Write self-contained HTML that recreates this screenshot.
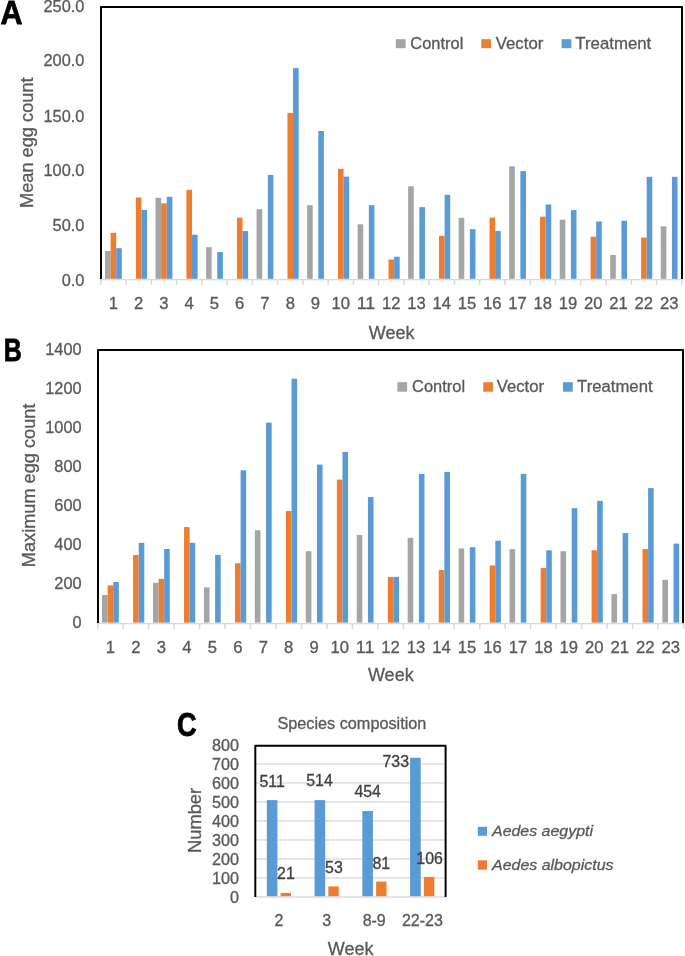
<!DOCTYPE html>
<html><head><meta charset="utf-8"><title>Figure</title>
<style>
html,body{margin:0;padding:0;background:#fff;}
body{width:685px;height:956px;overflow:hidden;}
svg{display:block;will-change:transform;font-family:"Liberation Sans", sans-serif;}
</style></head>
<body>
<svg width="685" height="956" viewBox="0 0 685 956">
<rect width="685" height="956" fill="#fff"/>
<rect x="105.03" y="251.1" width="5.6" height="27.7" fill="#A5A5A5"/>
<rect x="110.63" y="232.8" width="5.6" height="46" fill="#ED7D31"/>
<rect x="116.23" y="248.2" width="5.6" height="30.6" fill="#5B9BD5"/>
<rect x="135.89" y="197.5" width="5.6" height="81.3" fill="#ED7D31"/>
<rect x="141.49" y="209.9" width="5.6" height="68.9" fill="#5B9BD5"/>
<rect x="155.55" y="197.8" width="5.6" height="81" fill="#A5A5A5"/>
<rect x="161.15" y="203.4" width="5.6" height="75.4" fill="#ED7D31"/>
<rect x="166.75" y="196.8" width="5.6" height="82" fill="#5B9BD5"/>
<rect x="186.41" y="189.9" width="5.6" height="88.9" fill="#ED7D31"/>
<rect x="192.01" y="234.7" width="5.6" height="44.1" fill="#5B9BD5"/>
<rect x="206.07" y="247.2" width="5.6" height="31.6" fill="#A5A5A5"/>
<rect x="217.27" y="252" width="5.6" height="26.8" fill="#5B9BD5"/>
<rect x="236.93" y="217.7" width="5.6" height="61.1" fill="#ED7D31"/>
<rect x="242.53" y="231.1" width="5.6" height="47.7" fill="#5B9BD5"/>
<rect x="256.59" y="209.2" width="5.6" height="69.6" fill="#A5A5A5"/>
<rect x="267.79" y="174.9" width="5.6" height="103.9" fill="#5B9BD5"/>
<rect x="287.45" y="112.9" width="5.6" height="165.9" fill="#ED7D31"/>
<rect x="293.05" y="68.1" width="5.6" height="210.7" fill="#5B9BD5"/>
<rect x="307.11" y="205.2" width="5.6" height="73.6" fill="#A5A5A5"/>
<rect x="318.31" y="131" width="5.6" height="147.8" fill="#5B9BD5"/>
<rect x="337.97" y="168.9" width="5.6" height="109.9" fill="#ED7D31"/>
<rect x="343.57" y="176.6" width="5.6" height="102.2" fill="#5B9BD5"/>
<rect x="357.63" y="224.3" width="5.6" height="54.5" fill="#A5A5A5"/>
<rect x="368.83" y="205.2" width="5.6" height="73.6" fill="#5B9BD5"/>
<rect x="388.49" y="259.5" width="5.6" height="19.3" fill="#ED7D31"/>
<rect x="394.09" y="256.7" width="5.6" height="22.1" fill="#5B9BD5"/>
<rect x="408.15" y="186.3" width="5.6" height="92.5" fill="#A5A5A5"/>
<rect x="419.35" y="207.1" width="5.6" height="71.7" fill="#5B9BD5"/>
<rect x="439.01" y="235.8" width="5.6" height="43" fill="#ED7D31"/>
<rect x="444.61" y="194.8" width="5.6" height="84" fill="#5B9BD5"/>
<rect x="458.67" y="217.8" width="5.6" height="61" fill="#A5A5A5"/>
<rect x="469.87" y="229.2" width="5.6" height="49.6" fill="#5B9BD5"/>
<rect x="489.53" y="217.6" width="5.6" height="61.2" fill="#ED7D31"/>
<rect x="495.13" y="230.9" width="5.6" height="47.9" fill="#5B9BD5"/>
<rect x="509.19" y="166.3" width="5.6" height="112.5" fill="#A5A5A5"/>
<rect x="520.39" y="171" width="5.6" height="107.8" fill="#5B9BD5"/>
<rect x="540.05" y="216.7" width="5.6" height="62.1" fill="#ED7D31"/>
<rect x="545.65" y="204.5" width="5.6" height="74.3" fill="#5B9BD5"/>
<rect x="559.71" y="219.7" width="5.6" height="59.1" fill="#A5A5A5"/>
<rect x="570.91" y="210.1" width="5.6" height="68.7" fill="#5B9BD5"/>
<rect x="590.57" y="236.7" width="5.6" height="42.1" fill="#ED7D31"/>
<rect x="596.17" y="221.5" width="5.6" height="57.3" fill="#5B9BD5"/>
<rect x="610.23" y="255" width="5.6" height="23.8" fill="#A5A5A5"/>
<rect x="621.43" y="220.7" width="5.6" height="58.1" fill="#5B9BD5"/>
<rect x="641.09" y="237.6" width="5.6" height="41.2" fill="#ED7D31"/>
<rect x="646.69" y="176.8" width="5.6" height="102" fill="#5B9BD5"/>
<rect x="660.75" y="226.3" width="5.6" height="52.5" fill="#A5A5A5"/>
<rect x="671.95" y="176.8" width="5.6" height="102" fill="#5B9BD5"/>
<rect x="100.3" y="279" width="581.98" height="1.3" fill="#D9D9D9"/>
<rect x="100.05" y="280" width="1.5" height="4.9" fill="#D9D9D9"/>
<rect x="125.31" y="280" width="1.5" height="4.9" fill="#D9D9D9"/>
<rect x="150.57" y="280" width="1.5" height="4.9" fill="#D9D9D9"/>
<rect x="175.83" y="280" width="1.5" height="4.9" fill="#D9D9D9"/>
<rect x="201.09" y="280" width="1.5" height="4.9" fill="#D9D9D9"/>
<rect x="226.35" y="280" width="1.5" height="4.9" fill="#D9D9D9"/>
<rect x="251.61" y="280" width="1.5" height="4.9" fill="#D9D9D9"/>
<rect x="276.87" y="280" width="1.5" height="4.9" fill="#D9D9D9"/>
<rect x="302.13" y="280" width="1.5" height="4.9" fill="#D9D9D9"/>
<rect x="327.39" y="280" width="1.5" height="4.9" fill="#D9D9D9"/>
<rect x="352.65" y="280" width="1.5" height="4.9" fill="#D9D9D9"/>
<rect x="377.91" y="280" width="1.5" height="4.9" fill="#D9D9D9"/>
<rect x="403.17" y="280" width="1.5" height="4.9" fill="#D9D9D9"/>
<rect x="428.43" y="280" width="1.5" height="4.9" fill="#D9D9D9"/>
<rect x="453.69" y="280" width="1.5" height="4.9" fill="#D9D9D9"/>
<rect x="478.95" y="280" width="1.5" height="4.9" fill="#D9D9D9"/>
<rect x="504.21" y="280" width="1.5" height="4.9" fill="#D9D9D9"/>
<rect x="529.47" y="280" width="1.5" height="4.9" fill="#D9D9D9"/>
<rect x="554.73" y="280" width="1.5" height="4.9" fill="#D9D9D9"/>
<rect x="579.99" y="280" width="1.5" height="4.9" fill="#D9D9D9"/>
<rect x="605.25" y="280" width="1.5" height="4.9" fill="#D9D9D9"/>
<rect x="630.51" y="280" width="1.5" height="4.9" fill="#D9D9D9"/>
<rect x="655.77" y="280" width="1.5" height="4.9" fill="#D9D9D9"/>
<rect x="681.03" y="280" width="1.5" height="4.9" fill="#D9D9D9"/>
<path d="M101 279 V7 H682 V279" fill="none" stroke="#000" stroke-width="2" stroke-linejoin="round"/>
<text x="84.4" y="285.9" font-size="16.3" text-anchor="end" fill="#595959" stroke="#595959" stroke-width="0.3" textLength="22.69" lengthAdjust="spacingAndGlyphs">0.0</text>
<text x="84.4" y="231.2" font-size="16.3" text-anchor="end" fill="#595959" stroke="#595959" stroke-width="0.3" textLength="31.76" lengthAdjust="spacingAndGlyphs">50.0</text>
<text x="84.4" y="175.7" font-size="16.3" text-anchor="end" fill="#595959" stroke="#595959" stroke-width="0.3" textLength="40.84" lengthAdjust="spacingAndGlyphs">100.0</text>
<text x="84.4" y="121.85" font-size="16.3" text-anchor="end" fill="#595959" stroke="#595959" stroke-width="0.3" textLength="40.84" lengthAdjust="spacingAndGlyphs">150.0</text>
<text x="84.4" y="66.3" font-size="16.3" text-anchor="end" fill="#595959" stroke="#595959" stroke-width="0.3" textLength="40.84" lengthAdjust="spacingAndGlyphs">200.0</text>
<text x="84.4" y="12.2" font-size="16.3" text-anchor="end" fill="#595959" stroke="#595959" stroke-width="0.3" textLength="40.84" lengthAdjust="spacingAndGlyphs">250.0</text>
<text x="113.43" y="308.5" font-size="16" text-anchor="middle" fill="#595959" stroke="#595959" stroke-width="0.3" textLength="9.25" lengthAdjust="spacingAndGlyphs">1</text>
<text x="138.69" y="308.5" font-size="16" text-anchor="middle" fill="#595959" stroke="#595959" stroke-width="0.3" textLength="9.25" lengthAdjust="spacingAndGlyphs">2</text>
<text x="163.95" y="308.5" font-size="16" text-anchor="middle" fill="#595959" stroke="#595959" stroke-width="0.3" textLength="9.25" lengthAdjust="spacingAndGlyphs">3</text>
<text x="189.21" y="308.5" font-size="16" text-anchor="middle" fill="#595959" stroke="#595959" stroke-width="0.3" textLength="9.25" lengthAdjust="spacingAndGlyphs">4</text>
<text x="214.47" y="308.5" font-size="16" text-anchor="middle" fill="#595959" stroke="#595959" stroke-width="0.3" textLength="9.25" lengthAdjust="spacingAndGlyphs">5</text>
<text x="239.73" y="308.5" font-size="16" text-anchor="middle" fill="#595959" stroke="#595959" stroke-width="0.3" textLength="9.25" lengthAdjust="spacingAndGlyphs">6</text>
<text x="264.99" y="308.5" font-size="16" text-anchor="middle" fill="#595959" stroke="#595959" stroke-width="0.3" textLength="9.25" lengthAdjust="spacingAndGlyphs">7</text>
<text x="290.25" y="308.5" font-size="16" text-anchor="middle" fill="#595959" stroke="#595959" stroke-width="0.3" textLength="9.25" lengthAdjust="spacingAndGlyphs">8</text>
<text x="315.51" y="308.5" font-size="16" text-anchor="middle" fill="#595959" stroke="#595959" stroke-width="0.3" textLength="9.25" lengthAdjust="spacingAndGlyphs">9</text>
<text x="340.77" y="308.5" font-size="16" text-anchor="middle" fill="#595959" stroke="#595959" stroke-width="0.3" textLength="18.5" lengthAdjust="spacingAndGlyphs">10</text>
<text x="366.03" y="308.5" font-size="16" text-anchor="middle" fill="#595959" stroke="#595959" stroke-width="0.3" textLength="18.5" lengthAdjust="spacingAndGlyphs">11</text>
<text x="391.29" y="308.5" font-size="16" text-anchor="middle" fill="#595959" stroke="#595959" stroke-width="0.3" textLength="18.5" lengthAdjust="spacingAndGlyphs">12</text>
<text x="416.55" y="308.5" font-size="16" text-anchor="middle" fill="#595959" stroke="#595959" stroke-width="0.3" textLength="18.5" lengthAdjust="spacingAndGlyphs">13</text>
<text x="441.81" y="308.5" font-size="16" text-anchor="middle" fill="#595959" stroke="#595959" stroke-width="0.3" textLength="18.5" lengthAdjust="spacingAndGlyphs">14</text>
<text x="467.07" y="308.5" font-size="16" text-anchor="middle" fill="#595959" stroke="#595959" stroke-width="0.3" textLength="18.5" lengthAdjust="spacingAndGlyphs">15</text>
<text x="492.33" y="308.5" font-size="16" text-anchor="middle" fill="#595959" stroke="#595959" stroke-width="0.3" textLength="18.5" lengthAdjust="spacingAndGlyphs">16</text>
<text x="517.59" y="308.5" font-size="16" text-anchor="middle" fill="#595959" stroke="#595959" stroke-width="0.3" textLength="18.5" lengthAdjust="spacingAndGlyphs">17</text>
<text x="542.85" y="308.5" font-size="16" text-anchor="middle" fill="#595959" stroke="#595959" stroke-width="0.3" textLength="18.5" lengthAdjust="spacingAndGlyphs">18</text>
<text x="568.11" y="308.5" font-size="16" text-anchor="middle" fill="#595959" stroke="#595959" stroke-width="0.3" textLength="18.5" lengthAdjust="spacingAndGlyphs">19</text>
<text x="593.37" y="308.5" font-size="16" text-anchor="middle" fill="#595959" stroke="#595959" stroke-width="0.3" textLength="18.5" lengthAdjust="spacingAndGlyphs">20</text>
<text x="618.63" y="308.5" font-size="16" text-anchor="middle" fill="#595959" stroke="#595959" stroke-width="0.3" textLength="18.5" lengthAdjust="spacingAndGlyphs">21</text>
<text x="643.89" y="308.5" font-size="16" text-anchor="middle" fill="#595959" stroke="#595959" stroke-width="0.3" textLength="18.5" lengthAdjust="spacingAndGlyphs">22</text>
<text x="669.15" y="308.5" font-size="16" text-anchor="middle" fill="#595959" stroke="#595959" stroke-width="0.3" textLength="18.5" lengthAdjust="spacingAndGlyphs">23</text>
<text x="391.7" y="338.6" font-size="18" text-anchor="middle" fill="#595959" stroke="#595959" stroke-width="0.3">Week</text>
<text transform="translate(33.2,142.7) rotate(-90)" font-size="18" text-anchor="middle" fill="#595959" stroke="#595959" stroke-width="0.3" textLength="130.6" lengthAdjust="spacingAndGlyphs">Mean egg count</text>
<rect x="395.8" y="39.2" width="9.8" height="9" fill="#A5A5A5"/>
<text x="410.3" y="48.5" font-size="15.8" text-anchor="start" fill="#595959" stroke="#595959" stroke-width="0.3" textLength="53" lengthAdjust="spacingAndGlyphs">Control</text>
<rect x="481.3" y="39.2" width="9.8" height="9" fill="#ED7D31"/>
<text x="495.8" y="48.5" font-size="15.8" text-anchor="start" fill="#595959" stroke="#595959" stroke-width="0.3" textLength="47.5" lengthAdjust="spacingAndGlyphs">Vector</text>
<rect x="561.6" y="39.2" width="9.8" height="9" fill="#5B9BD5"/>
<text x="575.3" y="48.5" font-size="15.8" text-anchor="start" fill="#595959" stroke="#595959" stroke-width="0.3" textLength="76" lengthAdjust="spacingAndGlyphs">Treatment</text>
<text x="0.6" y="24" font-size="32.5" text-anchor="start" fill="#000" stroke="#000" stroke-width="0.8" font-weight="bold" textLength="22" lengthAdjust="spacingAndGlyphs">A</text>
<rect x="102.03" y="595" width="5.6" height="27.6" fill="#A5A5A5"/>
<rect x="107.64" y="585.4" width="5.6" height="37.2" fill="#ED7D31"/>
<rect x="113.23" y="582" width="5.6" height="40.6" fill="#5B9BD5"/>
<rect x="133.1" y="555" width="5.6" height="67.6" fill="#ED7D31"/>
<rect x="138.71" y="542.8" width="5.6" height="79.8" fill="#5B9BD5"/>
<rect x="152.97" y="582.8" width="5.6" height="39.8" fill="#A5A5A5"/>
<rect x="158.57" y="578.9" width="5.6" height="43.7" fill="#ED7D31"/>
<rect x="164.18" y="549" width="5.6" height="73.6" fill="#5B9BD5"/>
<rect x="184.05" y="527.1" width="5.6" height="95.5" fill="#ED7D31"/>
<rect x="189.65" y="542.8" width="5.6" height="79.8" fill="#5B9BD5"/>
<rect x="203.91" y="587.4" width="5.6" height="35.2" fill="#A5A5A5"/>
<rect x="215.12" y="554.9" width="5.6" height="67.7" fill="#5B9BD5"/>
<rect x="234.99" y="563.3" width="5.6" height="59.3" fill="#ED7D31"/>
<rect x="240.59" y="470.3" width="5.6" height="152.3" fill="#5B9BD5"/>
<rect x="254.85" y="530.2" width="5.6" height="92.4" fill="#A5A5A5"/>
<rect x="266.06" y="422.7" width="5.6" height="199.9" fill="#5B9BD5"/>
<rect x="285.93" y="511" width="5.6" height="111.6" fill="#ED7D31"/>
<rect x="291.53" y="378.7" width="5.6" height="243.9" fill="#5B9BD5"/>
<rect x="305.8" y="551.2" width="5.6" height="71.4" fill="#A5A5A5"/>
<rect x="317" y="464.6" width="5.6" height="158" fill="#5B9BD5"/>
<rect x="336.87" y="479.6" width="5.6" height="143" fill="#ED7D31"/>
<rect x="342.47" y="452" width="5.6" height="170.6" fill="#5B9BD5"/>
<rect x="356.74" y="535" width="5.6" height="87.6" fill="#A5A5A5"/>
<rect x="367.94" y="497" width="5.6" height="125.6" fill="#5B9BD5"/>
<rect x="387.8" y="576.9" width="5.6" height="45.7" fill="#ED7D31"/>
<rect x="393.4" y="576.9" width="5.6" height="45.7" fill="#5B9BD5"/>
<rect x="407.68" y="537.8" width="5.6" height="84.8" fill="#A5A5A5"/>
<rect x="418.88" y="473.9" width="5.6" height="148.7" fill="#5B9BD5"/>
<rect x="438.75" y="570.1" width="5.6" height="52.5" fill="#ED7D31"/>
<rect x="444.35" y="471.9" width="5.6" height="150.7" fill="#5B9BD5"/>
<rect x="458.62" y="548.4" width="5.6" height="74.2" fill="#A5A5A5"/>
<rect x="469.81" y="547.2" width="5.6" height="75.4" fill="#5B9BD5"/>
<rect x="489.68" y="565.5" width="5.6" height="57.1" fill="#ED7D31"/>
<rect x="495.28" y="540.7" width="5.6" height="81.9" fill="#5B9BD5"/>
<rect x="509.55" y="549.2" width="5.6" height="73.4" fill="#A5A5A5"/>
<rect x="520.75" y="473.9" width="5.6" height="148.7" fill="#5B9BD5"/>
<rect x="540.63" y="568.1" width="5.6" height="54.5" fill="#ED7D31"/>
<rect x="546.23" y="550.3" width="5.6" height="72.3" fill="#5B9BD5"/>
<rect x="560.5" y="551.2" width="5.6" height="71.4" fill="#A5A5A5"/>
<rect x="571.69" y="508.2" width="5.6" height="114.4" fill="#5B9BD5"/>
<rect x="591.57" y="550.3" width="5.6" height="72.3" fill="#ED7D31"/>
<rect x="597.16" y="500.9" width="5.6" height="121.7" fill="#5B9BD5"/>
<rect x="611.44" y="594.1" width="5.6" height="28.5" fill="#A5A5A5"/>
<rect x="622.63" y="533.1" width="5.6" height="89.5" fill="#5B9BD5"/>
<rect x="642.51" y="549.1" width="5.6" height="73.5" fill="#ED7D31"/>
<rect x="648.11" y="488.1" width="5.6" height="134.5" fill="#5B9BD5"/>
<rect x="662.38" y="579.8" width="5.6" height="42.8" fill="#A5A5A5"/>
<rect x="673.57" y="543.6" width="5.6" height="79" fill="#5B9BD5"/>
<rect x="97.2" y="623" width="586.81" height="1.3" fill="#D9D9D9"/>
<rect x="96.95" y="624" width="1.5" height="4.9" fill="#D9D9D9"/>
<rect x="122.42" y="624" width="1.5" height="4.9" fill="#D9D9D9"/>
<rect x="147.89" y="624" width="1.5" height="4.9" fill="#D9D9D9"/>
<rect x="173.36" y="624" width="1.5" height="4.9" fill="#D9D9D9"/>
<rect x="198.83" y="624" width="1.5" height="4.9" fill="#D9D9D9"/>
<rect x="224.3" y="624" width="1.5" height="4.9" fill="#D9D9D9"/>
<rect x="249.77" y="624" width="1.5" height="4.9" fill="#D9D9D9"/>
<rect x="275.24" y="624" width="1.5" height="4.9" fill="#D9D9D9"/>
<rect x="300.71" y="624" width="1.5" height="4.9" fill="#D9D9D9"/>
<rect x="326.18" y="624" width="1.5" height="4.9" fill="#D9D9D9"/>
<rect x="351.65" y="624" width="1.5" height="4.9" fill="#D9D9D9"/>
<rect x="377.12" y="624" width="1.5" height="4.9" fill="#D9D9D9"/>
<rect x="402.59" y="624" width="1.5" height="4.9" fill="#D9D9D9"/>
<rect x="428.06" y="624" width="1.5" height="4.9" fill="#D9D9D9"/>
<rect x="453.53" y="624" width="1.5" height="4.9" fill="#D9D9D9"/>
<rect x="479" y="624" width="1.5" height="4.9" fill="#D9D9D9"/>
<rect x="504.47" y="624" width="1.5" height="4.9" fill="#D9D9D9"/>
<rect x="529.94" y="624" width="1.5" height="4.9" fill="#D9D9D9"/>
<rect x="555.41" y="624" width="1.5" height="4.9" fill="#D9D9D9"/>
<rect x="580.88" y="624" width="1.5" height="4.9" fill="#D9D9D9"/>
<rect x="606.35" y="624" width="1.5" height="4.9" fill="#D9D9D9"/>
<rect x="631.82" y="624" width="1.5" height="4.9" fill="#D9D9D9"/>
<rect x="657.29" y="624" width="1.5" height="4.9" fill="#D9D9D9"/>
<rect x="682.76" y="624" width="1.5" height="4.9" fill="#D9D9D9"/>
<path d="M98 623 V350 H683 V623" fill="none" stroke="#000" stroke-width="2" stroke-linejoin="round"/>
<text x="81.6" y="628.35" font-size="16.5" text-anchor="end" fill="#595959" stroke="#595959" stroke-width="0.3" textLength="9.09" lengthAdjust="spacingAndGlyphs">0</text>
<text x="81.6" y="589.28" font-size="16.5" text-anchor="end" fill="#595959" stroke="#595959" stroke-width="0.3" textLength="27.28" lengthAdjust="spacingAndGlyphs">200</text>
<text x="81.6" y="550.21" font-size="16.5" text-anchor="end" fill="#595959" stroke="#595959" stroke-width="0.3" textLength="27.28" lengthAdjust="spacingAndGlyphs">400</text>
<text x="81.6" y="511.14" font-size="16.5" text-anchor="end" fill="#595959" stroke="#595959" stroke-width="0.3" textLength="27.28" lengthAdjust="spacingAndGlyphs">600</text>
<text x="81.6" y="472.07" font-size="16.5" text-anchor="end" fill="#595959" stroke="#595959" stroke-width="0.3" textLength="27.28" lengthAdjust="spacingAndGlyphs">800</text>
<text x="81.6" y="433" font-size="16.5" text-anchor="end" fill="#595959" stroke="#595959" stroke-width="0.3" textLength="36.37" lengthAdjust="spacingAndGlyphs">1000</text>
<text x="81.6" y="393.93" font-size="16.5" text-anchor="end" fill="#595959" stroke="#595959" stroke-width="0.3" textLength="36.37" lengthAdjust="spacingAndGlyphs">1200</text>
<text x="81.6" y="354.86" font-size="16.5" text-anchor="end" fill="#595959" stroke="#595959" stroke-width="0.3" textLength="36.37" lengthAdjust="spacingAndGlyphs">1400</text>
<text x="110.44" y="652.7" font-size="16" text-anchor="middle" fill="#595959" stroke="#595959" stroke-width="0.3" textLength="9.25" lengthAdjust="spacingAndGlyphs">1</text>
<text x="135.91" y="652.7" font-size="16" text-anchor="middle" fill="#595959" stroke="#595959" stroke-width="0.3" textLength="9.25" lengthAdjust="spacingAndGlyphs">2</text>
<text x="161.38" y="652.7" font-size="16" text-anchor="middle" fill="#595959" stroke="#595959" stroke-width="0.3" textLength="9.25" lengthAdjust="spacingAndGlyphs">3</text>
<text x="186.85" y="652.7" font-size="16" text-anchor="middle" fill="#595959" stroke="#595959" stroke-width="0.3" textLength="9.25" lengthAdjust="spacingAndGlyphs">4</text>
<text x="212.31" y="652.7" font-size="16" text-anchor="middle" fill="#595959" stroke="#595959" stroke-width="0.3" textLength="9.25" lengthAdjust="spacingAndGlyphs">5</text>
<text x="237.79" y="652.7" font-size="16" text-anchor="middle" fill="#595959" stroke="#595959" stroke-width="0.3" textLength="9.25" lengthAdjust="spacingAndGlyphs">6</text>
<text x="263.25" y="652.7" font-size="16" text-anchor="middle" fill="#595959" stroke="#595959" stroke-width="0.3" textLength="9.25" lengthAdjust="spacingAndGlyphs">7</text>
<text x="288.73" y="652.7" font-size="16" text-anchor="middle" fill="#595959" stroke="#595959" stroke-width="0.3" textLength="9.25" lengthAdjust="spacingAndGlyphs">8</text>
<text x="314.19" y="652.7" font-size="16" text-anchor="middle" fill="#595959" stroke="#595959" stroke-width="0.3" textLength="9.25" lengthAdjust="spacingAndGlyphs">9</text>
<text x="339.67" y="652.7" font-size="16" text-anchor="middle" fill="#595959" stroke="#595959" stroke-width="0.3" textLength="18.5" lengthAdjust="spacingAndGlyphs">10</text>
<text x="365.13" y="652.7" font-size="16" text-anchor="middle" fill="#595959" stroke="#595959" stroke-width="0.3" textLength="18.5" lengthAdjust="spacingAndGlyphs">11</text>
<text x="390.6" y="652.7" font-size="16" text-anchor="middle" fill="#595959" stroke="#595959" stroke-width="0.3" textLength="18.5" lengthAdjust="spacingAndGlyphs">12</text>
<text x="416.07" y="652.7" font-size="16" text-anchor="middle" fill="#595959" stroke="#595959" stroke-width="0.3" textLength="18.5" lengthAdjust="spacingAndGlyphs">13</text>
<text x="441.55" y="652.7" font-size="16" text-anchor="middle" fill="#595959" stroke="#595959" stroke-width="0.3" textLength="18.5" lengthAdjust="spacingAndGlyphs">14</text>
<text x="467.01" y="652.7" font-size="16" text-anchor="middle" fill="#595959" stroke="#595959" stroke-width="0.3" textLength="18.5" lengthAdjust="spacingAndGlyphs">15</text>
<text x="492.48" y="652.7" font-size="16" text-anchor="middle" fill="#595959" stroke="#595959" stroke-width="0.3" textLength="18.5" lengthAdjust="spacingAndGlyphs">16</text>
<text x="517.95" y="652.7" font-size="16" text-anchor="middle" fill="#595959" stroke="#595959" stroke-width="0.3" textLength="18.5" lengthAdjust="spacingAndGlyphs">17</text>
<text x="543.43" y="652.7" font-size="16" text-anchor="middle" fill="#595959" stroke="#595959" stroke-width="0.3" textLength="18.5" lengthAdjust="spacingAndGlyphs">18</text>
<text x="568.89" y="652.7" font-size="16" text-anchor="middle" fill="#595959" stroke="#595959" stroke-width="0.3" textLength="18.5" lengthAdjust="spacingAndGlyphs">19</text>
<text x="594.37" y="652.7" font-size="16" text-anchor="middle" fill="#595959" stroke="#595959" stroke-width="0.3" textLength="18.5" lengthAdjust="spacingAndGlyphs">20</text>
<text x="619.84" y="652.7" font-size="16" text-anchor="middle" fill="#595959" stroke="#595959" stroke-width="0.3" textLength="18.5" lengthAdjust="spacingAndGlyphs">21</text>
<text x="645.31" y="652.7" font-size="16" text-anchor="middle" fill="#595959" stroke="#595959" stroke-width="0.3" textLength="18.5" lengthAdjust="spacingAndGlyphs">22</text>
<text x="670.77" y="652.7" font-size="16" text-anchor="middle" fill="#595959" stroke="#595959" stroke-width="0.3" textLength="18.5" lengthAdjust="spacingAndGlyphs">23</text>
<text x="390.8" y="681.3" font-size="18" text-anchor="middle" fill="#595959" stroke="#595959" stroke-width="0.3">Week</text>
<text transform="translate(34.6,485.4) rotate(-90)" font-size="18" text-anchor="middle" fill="#595959" stroke="#595959" stroke-width="0.3" textLength="163.6" lengthAdjust="spacingAndGlyphs">Maximum egg count</text>
<rect x="397.4" y="382.2" width="9.7" height="9.5" fill="#A5A5A5"/>
<text x="412.1" y="391.8" font-size="15.8" text-anchor="start" fill="#595959" stroke="#595959" stroke-width="0.3" textLength="53" lengthAdjust="spacingAndGlyphs">Control</text>
<rect x="483.3" y="382.2" width="9.7" height="9.5" fill="#ED7D31"/>
<text x="496.7" y="391.8" font-size="15.8" text-anchor="start" fill="#595959" stroke="#595959" stroke-width="0.3" textLength="47.3" lengthAdjust="spacingAndGlyphs">Vector</text>
<rect x="563.0" y="382.2" width="9.7" height="9.5" fill="#5B9BD5"/>
<text x="577.1" y="391.8" font-size="15.8" text-anchor="start" fill="#595959" stroke="#595959" stroke-width="0.3" textLength="75.5" lengthAdjust="spacingAndGlyphs">Treatment</text>
<text x="3.8" y="361.2" font-size="31" text-anchor="start" fill="#000" stroke="#000" stroke-width="0.8" font-weight="bold" textLength="18" lengthAdjust="spacingAndGlyphs">B</text>
<rect x="256" y="877.3" width="190" height="1.3" fill="#D9D9D9"/>
<rect x="256" y="858.3" width="190" height="1.3" fill="#D9D9D9"/>
<rect x="256" y="839.3" width="190" height="1.3" fill="#D9D9D9"/>
<rect x="256" y="820.3" width="190" height="1.3" fill="#D9D9D9"/>
<rect x="256" y="801.3" width="190" height="1.3" fill="#D9D9D9"/>
<rect x="256" y="782.3" width="190" height="1.3" fill="#D9D9D9"/>
<rect x="256" y="763.3" width="190" height="1.3" fill="#D9D9D9"/>
<rect x="266.8" y="800.1" width="10.6" height="96.4" fill="#5B9BD5"/>
<rect x="280.6" y="892.9" width="10.4" height="3.6" fill="#ED7D31"/>
<rect x="314.57" y="800.1" width="10.6" height="96.4" fill="#5B9BD5"/>
<rect x="328.37" y="886.4" width="10.4" height="10.1" fill="#ED7D31"/>
<rect x="362.34" y="811" width="10.6" height="85.5" fill="#5B9BD5"/>
<rect x="376.14" y="881.6" width="10.4" height="14.9" fill="#ED7D31"/>
<rect x="410.11" y="757.8" width="10.6" height="138.7" fill="#5B9BD5"/>
<rect x="423.91" y="876.9" width="10.4" height="19.6" fill="#ED7D31"/>
<rect x="255" y="896.3" width="191" height="1.4" fill="#D9D9D9"/>
<path d="M255.3 897 V745.7 H445.6 V897" fill="none" stroke="#000" stroke-width="2" stroke-linejoin="round"/>
<text x="238.9" y="902.6" font-size="16.2" text-anchor="end" fill="#595959" stroke="#595959" stroke-width="0.3">0</text>
<text x="238.9" y="883.6" font-size="16.2" text-anchor="end" fill="#595959" stroke="#595959" stroke-width="0.3">100</text>
<text x="238.9" y="864.6" font-size="16.2" text-anchor="end" fill="#595959" stroke="#595959" stroke-width="0.3">200</text>
<text x="238.9" y="845.6" font-size="16.2" text-anchor="end" fill="#595959" stroke="#595959" stroke-width="0.3">300</text>
<text x="238.9" y="826.6" font-size="16.2" text-anchor="end" fill="#595959" stroke="#595959" stroke-width="0.3">400</text>
<text x="238.9" y="807.6" font-size="16.2" text-anchor="end" fill="#595959" stroke="#595959" stroke-width="0.3">500</text>
<text x="238.9" y="788.6" font-size="16.2" text-anchor="end" fill="#595959" stroke="#595959" stroke-width="0.3">600</text>
<text x="238.9" y="769.6" font-size="16.2" text-anchor="end" fill="#595959" stroke="#595959" stroke-width="0.3">700</text>
<text x="238.9" y="750.6" font-size="16.2" text-anchor="end" fill="#595959" stroke="#595959" stroke-width="0.3">800</text>
<text x="279" y="925.6" font-size="16" text-anchor="middle" fill="#595959" stroke="#595959" stroke-width="0.3">2</text>
<text x="326.8" y="925.6" font-size="16" text-anchor="middle" fill="#595959" stroke="#595959" stroke-width="0.3">3</text>
<text x="374.2" y="925.6" font-size="16" text-anchor="middle" fill="#595959" stroke="#595959" stroke-width="0.3">8-9</text>
<text x="422.4" y="925.6" font-size="16" text-anchor="middle" fill="#595959" stroke="#595959" stroke-width="0.3">22-23</text>
<text x="350.6" y="954.8" font-size="18" text-anchor="middle" fill="#595959" stroke="#595959" stroke-width="0.3">Week</text>
<text transform="translate(200.8,820.4) rotate(-90)" font-size="18.3" text-anchor="middle" fill="#595959" stroke="#595959" stroke-width="0.3">Number</text>
<text x="351.9" y="729.4" font-size="15.8" text-anchor="middle" fill="#595959" stroke="#595959" stroke-width="0.3" textLength="149" lengthAdjust="spacingAndGlyphs">Species composition</text>
<text x="272.1" y="786.6" font-size="15.9" text-anchor="middle" fill="#404040" stroke="#404040" stroke-width="0.3">511</text>
<text x="319.5" y="785.9" font-size="15.9" text-anchor="middle" fill="#404040" stroke="#404040" stroke-width="0.3">514</text>
<text x="367.7" y="797.1" font-size="15.9" text-anchor="middle" fill="#404040" stroke="#404040" stroke-width="0.3">454</text>
<text x="395.8" y="766.7" font-size="15.9" text-anchor="middle" fill="#404040" stroke="#404040" stroke-width="0.3">733</text>
<text x="285.9" y="878.9" font-size="15.9" text-anchor="middle" fill="#404040" stroke="#404040" stroke-width="0.3">21</text>
<text x="333.9" y="873.3" font-size="15.9" text-anchor="middle" fill="#404040" stroke="#404040" stroke-width="0.3">53</text>
<text x="381.3" y="868.9" font-size="15.9" text-anchor="middle" fill="#404040" stroke="#404040" stroke-width="0.3">81</text>
<text x="429.6" y="864.2" font-size="15.9" text-anchor="middle" fill="#404040" stroke="#404040" stroke-width="0.3">106</text>
<rect x="477.8" y="826.8" width="9.2" height="9" fill="#5B9BD5"/>
<rect x="477.8" y="860.3" width="9.2" height="9.4" fill="#ED7D31"/>
<text x="492" y="836.4" font-size="15.2" text-anchor="start" fill="#595959" stroke="#595959" stroke-width="0.3" font-style="italic" textLength="101" lengthAdjust="spacingAndGlyphs">Aedes aegypti</text>
<text x="492" y="869.6" font-size="15.2" text-anchor="start" fill="#595959" stroke="#595959" stroke-width="0.3" font-style="italic" textLength="121.5" lengthAdjust="spacingAndGlyphs">Aedes albopictus</text>
<text x="177" y="735.8" font-size="32.5" text-anchor="start" fill="#000" stroke="#000" stroke-width="0.8" font-weight="bold" textLength="19.6" lengthAdjust="spacingAndGlyphs">C</text>
</svg>
</body></html>
